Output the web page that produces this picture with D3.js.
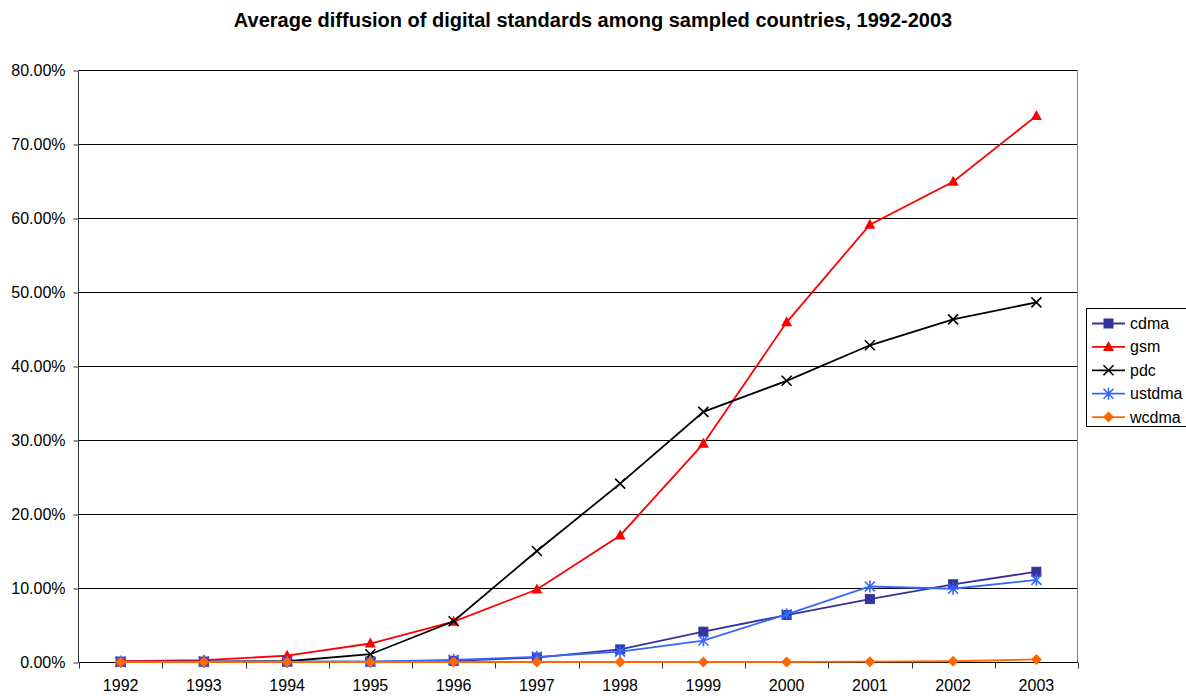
<!DOCTYPE html>
<html><head><meta charset="utf-8">
<script src="https://cdn.jsdelivr.net/npm/d3@7/dist/d3.min.js"></script>
<style>body{margin:0;background:#fff}svg{display:block;font-family:Arial,"Liberation Sans",sans-serif}</style>
</head><body>
<svg id="c" width="1186" height="696"></svg>
<script>
const years = ["1992","1993","1994","1995","1996","1997","1998","1999","2000","2001","2002","2003"];
const yTicks = [0,10,20,30,40,50,60,70,80];
const cdma   = [0.05,0.05,0.05,0.05,0.15,0.6,1.7,4.1,6.35,8.5,10.5,12.2];
const gsm    = [0.1,0.25,0.85,2.5,5.45,9.8,17.1,29.5,45.9,59.1,64.9,73.8];
const pdc    = [0,0.05,0.1,1.05,5.5,15.0,24.1,33.8,38.0,42.8,46.3,48.6];
const ustdma = [0.05,0.05,0.05,0.05,0.3,0.7,1.4,2.9,6.45,10.2,9.9,11.1];
const wcdma  = [0,0,0,0,0,0,0,0,0,0.05,0.1,0.35];
const seriesNames = ["cdma","gsm","pdc","ustdma","wcdma"];
const seriesData = [cdma,gsm,pdc,ustdma,wcdma];
const colors = ["#333399","#FF0000","#000000","#3366FF","#FF6600"];
const markers = ["square","triangle","x","star","diamond"];

const svg = d3.select("#c");
const L=79, R=1078, T=70, B=662;
const x = d3.scaleBand().domain(years).range([L,R]);
const y = d3.scaleLinear().domain([0,80]).range([B,T]);

svg.append("text").attr("x",593).attr("y",27).attr("text-anchor","middle")
  .attr("font-size",20).attr("font-weight","bold").text("Average diffusion of digital standards among sampled countries, 1992-2003");

// gridlines
svg.append("g").selectAll("line").data(yTicks.filter(d=>d>0)).join("line")
  .attr("x1",L).attr("x2",R).attr("y1",d=>Math.round(y(d))+0.5).attr("y2",d=>Math.round(y(d))+0.5)
  .attr("stroke","#000").attr("stroke-width",1);
// right border
svg.append("line").attr("x1",R-0.5).attr("x2",R-0.5).attr("y1",T).attr("y2",B).attr("stroke","#808080");

// y axis
const ya = svg.append("g").attr("transform",`translate(${L-0.5},0.5)`)
  .call(d3.axisLeft(y).tickValues(yTicks).tickSize(5).tickPadding(8).tickFormat(d=>d.toFixed(2)+"%"));
ya.selectAll("text").attr("font-size",16).attr("font-family","Arial,'Liberation Sans',sans-serif").attr("fill","#000");
ya.selectAll("line,path").attr("stroke","#333");
ya.select(".domain").attr("d",`M0,${T}V${B}`);

// x axis
const xa = svg.append("g").attr("transform",`translate(0,${B+0.5})`)
  .call(d3.axisBottom(x).tickSize(0).tickPadding(17));
xa.selectAll("text").attr("font-size",16).attr("font-family","Arial,'Liberation Sans',sans-serif").attr("fill","#000");
xa.select(".domain").attr("stroke","#000").attr("d",`M${L},0H${R}`);
xa.append("g").selectAll("line").data(d3.range(years.length+1)).join("line")
  .attr("x1",i=>Math.round(L+i*x.step())+0.5).attr("x2",i=>Math.round(L+i*x.step())+0.5)
  .attr("y1",0).attr("y2",6).attr("stroke","#333");

function drawMarker(g, type, color, cx, cy){
  if(type==="square") g.append("rect").attr("x",cx-4.5).attr("y",cy-4.5).attr("width",9).attr("height",9).attr("fill",color).attr("stroke",color);
  else if(type==="triangle") g.append("path").attr("d",`M${cx},${cy-6}L${cx+5.5},${cy+4}L${cx-5.5},${cy+4}Z`).attr("fill",color);
  else if(type==="x") g.append("path").attr("d",`M${cx-5},${cy-5}L${cx+5},${cy+5}M${cx-5},${cy+5}L${cx+5},${cy-5}`).attr("stroke",color).attr("stroke-width",1.6);
  else if(type==="star") g.append("path").attr("d",`M${cx-5},${cy-5}L${cx+5},${cy+5}M${cx-5},${cy+5}L${cx+5},${cy-5}M${cx},${cy-6}V${cy+6}`).attr("stroke",color).attr("stroke-width",1.6);
  else if(type==="diamond") g.append("path").attr("d",`M${cx},${cy-5.5}L${cx+5.5},${cy}L${cx},${cy+5.5}L${cx-5.5},${cy}Z`).attr("fill",color);
}

const line = d3.line().x((d,i)=>x(years[i])+x.bandwidth()/2).y(d=>y(d));
seriesData.forEach((data,s)=>{
  const g = svg.append("g");
  g.append("path").datum(data).attr("d",line).attr("fill","none").attr("stroke",colors[s]).attr("stroke-width",1.8);
  data.forEach((v,i)=>drawMarker(g,markers[s],colors[s],x(years[i])+x.bandwidth()/2,y(v)));
});

// legend
const lg = svg.append("g");
lg.append("rect").attr("x",1086.5).attr("y",308.5).attr("width",105).attr("height",118).attr("fill","#fff").attr("stroke","#000");
seriesNames.forEach((n,s)=>{
  const cy = 323.5 + s*23.4;
  lg.append("line").attr("x1",1092).attr("x2",1125).attr("y1",cy).attr("y2",cy).attr("stroke",colors[s]).attr("stroke-width",1.8);
  drawMarker(lg,markers[s],colors[s],1108.5,cy);
  lg.append("text").attr("x",1130).attr("y",cy+5.5).attr("font-size",16).text(n);
});
</script>
</body></html>
